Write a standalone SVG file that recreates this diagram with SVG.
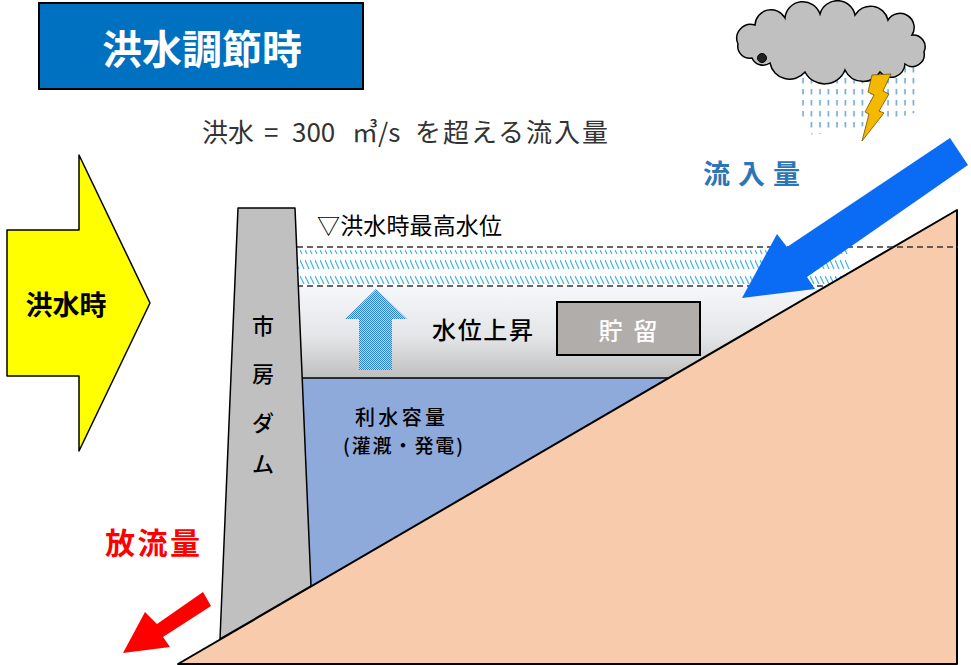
<svg xmlns="http://www.w3.org/2000/svg" width="971" height="665" viewBox="0 0 971 665">
  <style>
    .jp { font-family: "Noto Sans CJK JP", "Noto Sans", sans-serif; dominant-baseline: central; }
    .b { font-weight: bold; }
    .m { font-weight: 500; }
    .edge { stroke: #000; stroke-width: 1.5; stroke-linejoin: round; }
    .dash { stroke: #333; stroke-width: 1.5; stroke-dasharray: 6 4; fill: none; }
  </style>
  <defs>
    <linearGradient id="storeGrad" x1="0" y1="0" x2="0" y2="1">
      <stop offset="0" stop-color="#f5f7fa"/>
      <stop offset="0.55" stop-color="#e4e5e7"/>
      <stop offset="1" stop-color="#bfbfbf"/>
    </linearGradient>
    <pattern id="hatch" patternUnits="userSpaceOnUse" x="0" y="247" width="5" height="40">
      <g stroke="#3fb6e6" stroke-width="1.2">
        <line x1="0" y1="3" x2="2" y2="7"/>
        <line x1="0" y1="13" x2="4" y2="22"/>
        <line x1="0" y1="29" x2="4" y2="37"/>
      </g>
    </pattern>
    <pattern id="checker" patternUnits="userSpaceOnUse" width="2" height="2">
      <rect width="2" height="2" fill="#b5d6f2"/>
      <rect width="1" height="1" fill="#2f86cf"/>
      <rect x="1" y="1" width="1" height="1" fill="#2f86cf"/>
    </pattern>
    <pattern id="rain" patternUnits="userSpaceOnUse" x="800" y="66" width="8.5" height="11">
      <line x1="3" y1="1" x2="3" y2="6.5" stroke="#6ea6d8" stroke-width="1.6"/>
    </pattern>
  </defs>

  <rect width="971" height="665" fill="#fff"/>

  <!-- title -->
  <g id="title">
    <rect x="39" y="3" width="324" height="86" fill="#0070c0" stroke="#000" stroke-width="2"/>
    <text class="jp b" x="202" y="47" font-size="40" fill="#fff" text-anchor="middle">洪水調節時</text>
  </g>

  <g id="definition">
    <text class="jp" y="130" font-size="26" fill="#333">
      <tspan x="202">洪水</tspan><tspan x="264">=</tspan><tspan x="292">300</tspan><tspan x="352">㎥/s</tspan><tspan x="415" textLength="193">を超える流入量</tspan>
    </text>
  </g>

  <!-- flood-time block arrow -->
  <g id="flood-arrow">
    <polygon points="7,230 79,230 79,155 150,303 79,451 79,376 7,376" fill="#ffff00" class="edge"/>
    <text class="jp b" x="66" y="303" font-size="27" text-anchor="middle">洪水時</text>
  </g>

  <!-- reservoir water -->
  <g id="reservoir">
    <rect x="295" y="287" width="540" height="91" fill="url(#storeGrad)"/>
    <rect x="295" y="378" width="400" height="230" fill="#8eaadb"/>
    <line x1="300" y1="378" x2="670" y2="378" stroke="#000" stroke-width="1.5"/>
    <rect x="295" y="248" width="555" height="38" fill="url(#hatch)"/>
    <line class="dash" x1="297" y1="286" x2="830" y2="286"/>
  </g>

  <!-- hillside -->
  <g id="ground">
    <polygon points="178,664 957,210 957,664" fill="#f8cbad" stroke="#000" stroke-width="2" stroke-linejoin="round"/>
  </g>
  <line class="dash" x1="297" y1="247" x2="958" y2="247"/>

  <!-- dam body -->
  <g id="dam">
    <polygon points="238,208 295,208 311,586 220,639" fill="#c0c0c0" class="edge"/>
    <g class="jp m" font-size="22" text-anchor="middle">
      <text x="263" y="324">市</text>
      <text x="263" y="372">房</text>
      <text x="263" y="421">ダ</text>
      <text x="263" y="462">ム</text>
    </g>
  </g>

  <g id="labels">
    <text class="jp" x="317" y="224" font-size="23" textLength="185">▽洪水時最高水位</text>
    <text class="jp m" x="432" y="328" font-size="24" textLength="101">水位上昇</text>
    <text class="jp m" x="400" y="416" font-size="20" text-anchor="middle" textLength="90">利水容量</text>
    <text class="jp m" x="403" y="444" font-size="19" text-anchor="middle" textLength="120">(灌漑・発電)</text>
  </g>

  <g id="rise-arrow">
    <polygon points="376,289 407,319 392,319 392,370 359,370 359,319 345,319" fill="url(#checker)"/>
  </g>

  <g id="storage">
    <rect x="557" y="302" width="143" height="53" fill="#b1adab" stroke="#000" stroke-width="2"/>
    <text class="jp m" x="628" y="329" font-size="24" fill="#fff" text-anchor="middle" textLength="59">貯 留</text>
  </g>

  <!-- inflow / outflow -->
  <g id="connectors">
    <polygon points="950,138 968,165 807,277 815,289 742,298 777,234 787,247" fill="#0a6cf5"/>
    <polygon points="203,592 211,606 163,637 170,647 123,653 145,612 157,624" fill="#ff0000"/>
  </g>
  <g id="inflow-label">
    <text class="jp b" x="703" y="172" font-size="27" fill="#2e75b6" textLength="97">流入量</text>
  </g>
  <g id="outflow-label">
    <text class="jp b" x="105" y="541" font-size="30" fill="#ff0000" textLength="95">放流量</text>
  </g>

  <!-- storm cloud -->
  <g id="storm">
    <polygon points="800,66 918,66 918,112 870,125 812,135 802,118" fill="url(#rain)"/>
    <path d="M752,58 A12 12 0 0 1 738,44 A14 14 0 0 1 755,25 A16 16 0 0 1 785,18 A18 18 0 0 1 820,14 A18 18 0 0 1 855,15 A18 18 0 0 1 888,20 A14 14 0 0 1 912,35 A12 12 0 0 1 924,52 A12 12 0 0 1 905,64 A14 14 0 0 1 880,72 A20 20 0 0 1 845,70 A22 22 0 0 1 805,72 A20 20 0 0 1 770,63 A12 12 0 0 1 752,58 Z" fill="#c0c0c0" stroke="#000" stroke-width="1.5"/>
    <circle cx="762" cy="58" r="4.5" fill="#222" stroke="#000"/>
    <polygon points="872,75 891,74 883,91 889,94 879,111 884,113 862,141 869,114 865,112 874,95 868,92" fill="#f5b800" stroke="#6b5200" stroke-width="0.8"/>
  </g>
</svg>
